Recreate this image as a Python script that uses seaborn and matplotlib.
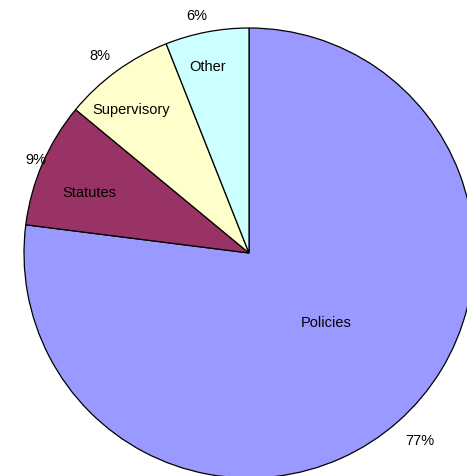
import matplotlib
matplotlib.use("Agg")
import matplotlib.pyplot as plt
import seaborn as sns
import numpy as np

categories = ["Policies", "Statutes", "Supervisory", "Other"]
values = [77, 9, 8, 6]
pct_labels = ["77%", "9%", "8%", "6%"]
colors = ["#9999FF", "#993366", "#FFFFCC", "#CCFFFF"]

sns.set_theme(style="white")
plt.rcParams['font.family'] = ['Liberation Sans', 'DejaVu Sans']

W, H = 467, 477
fig = plt.figure(figsize=(W / 100, H / 100), dpi=100)
cx, cy, r = 249, 254, 225
ax = fig.add_axes([(cx - r) / W, (H - cy - r) / H, 2 * r / W, 2 * r / H])
ax.set_axis_off()

wedges, _ = ax.pie(values, colors=colors, startangle=90, counterclock=False,
                   radius=1, wedgeprops=dict(edgecolor="black", linewidth=0.9))
ax.set_xlim(-1, 1)
ax.set_ylim(-1, 1)
for w in wedges:
    w.set_clip_on(False)

# label placement (distance in radius units, angular offset in degrees)
cat_dist = [0.46, 0.761, 0.827, 0.852]
cat_off = [6.6, 2.4, 3.3, 1.6]
pct_dist = [1.123, 1.035, 1.101, 1.084]
pct_off = [1.0, -0.4, 1.0, 1.6]

for i, w in enumerate(wedges):
    mid = (w.theta1 + w.theta2) / 2
    a = np.deg2rad(mid + cat_off[i])
    ax.text(cat_dist[i] * np.cos(a), cat_dist[i] * np.sin(a), categories[i],
            ha="center", va="center", fontsize=10.5, color="black")
    b = np.deg2rad(mid + pct_off[i])
    ax.text(pct_dist[i] * np.cos(b), pct_dist[i] * np.sin(b), pct_labels[i],
            ha="center", va="center", fontsize=10.5, color="black", clip_on=False)

fig.savefig("out.png", dpi=100, facecolor="white")
